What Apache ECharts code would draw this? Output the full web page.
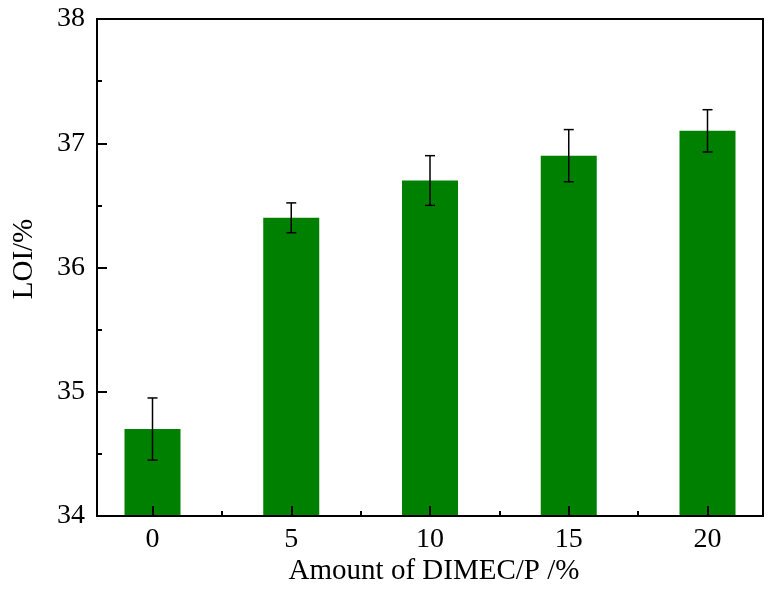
<!DOCTYPE html>
<html>
<head>
<meta charset="utf-8">
<script src="https://cdn.jsdelivr.net/npm/echarts@6/dist/echarts.min.js"></script>
<style>
html,body{margin:0;padding:0;background:#fff;}
#chart{width:774px;height:592px;}
</style>
</head>
<body>
<div id="chart"></div>
<script>
// Data
var amounts = [0, 5, 10, 15, 20];            // Amount of DIMEC/P (%)
var loiValues = [34.7, 36.4, 36.7, 36.9, 37.1]; // LOI (%)
var loiErrors = [0.25, 0.12, 0.20, 0.21, 0.17]; // ± error
var xMinorTicks = [2.5, 7.5, 12.5, 17.5];
var xTitle = 'Amount of DIMEC/P /%';
var yTitle = 'LOI/%';

var FONT = '"Liberation Serif", "Times New Roman", serif';

var barData = amounts.map(function (a, i) { return [a, loiValues[i]]; });
var errData = amounts.map(function (a, i) { return [a, loiValues[i] - loiErrors[i], loiValues[i] + loiErrors[i]]; });

var chart = echarts.init(document.getElementById('chart'), null, {renderer: 'canvas'});
chart.setOption({
  backgroundColor: '#ffffff',
  animation: false,
  grid: {
    left: 97, top: 19, right: 11, bottom: 76,
    show: true, borderColor: '#000', borderWidth: 2, backgroundColor: 'transparent'
  },
  xAxis: [{
    type: 'value', min: -2, max: 22, z: 10,
    splitLine: {show: false},
    axisLine: {show: true, onZero: false, lineStyle: {color: '#000', width: 2}},
    axisTick: {show: true, inside: true, length: 10, customValues: amounts, lineStyle: {color: '#000', width: 2}},
    axisLabel: {show: true, customValues: amounts, margin: 10, color: '#000', fontSize: 28, fontFamily: FONT}
  }, {
    type: 'value', min: -2, max: 22, position: 'bottom', z: 10,
    splitLine: {show: false},
    axisLine: {show: false, onZero: false},
    axisTick: {show: true, inside: true, length: 5, customValues: xMinorTicks, lineStyle: {color: '#000', width: 2}},
    axisLabel: {show: false}
  }],
  yAxis: {
    type: 'value', min: 34, max: 38, interval: 1, z: 10,
    splitLine: {show: false},
    axisLine: {show: true, onZero: false, lineStyle: {color: '#000', width: 2}},
    axisTick: {show: true, inside: true, length: 10, lineStyle: {color: '#000', width: 2}},
    minorTick: {show: true, splitNumber: 2, length: 5, lineStyle: {color: '#000', width: 2}},
    axisLabel: {margin: 12, color: '#000', fontSize: 28, fontFamily: FONT}
  },
  graphic: [{
    type: 'text', x: 434, y: 571,
    style: {text: xTitle, font: '29px ' + FONT, fill: '#000', align: 'center', verticalAlign: 'middle'}
  }, {
    type: 'text', x: 24.5, y: 259, rotation: Math.PI / 2,
    style: {text: yTitle, font: '29px ' + FONT, fill: '#000', align: 'center', verticalAlign: 'middle'}
  }],
  series: [{
    type: 'bar',
    data: barData,
    barWidth: 56,
    itemStyle: {color: '#008000'},
    clip: true,
    z: 2
  }, {
    type: 'custom',
    data: errData,
    z: 5,
    renderItem: function (params, api) {
      var x = api.value(0);
      var lo = api.coord([x, api.value(1)]);
      var hi = api.coord([x, api.value(2)]);
      var hw = 5;
      var st = {stroke: '#000', lineWidth: 1.5};
      return {
        type: 'group',
        children: [
          {type: 'line', shape: {x1: lo[0], y1: lo[1], x2: hi[0], y2: hi[1]}, style: st},
          {type: 'line', shape: {x1: hi[0] - hw, y1: hi[1], x2: hi[0] + hw, y2: hi[1]}, style: st},
          {type: 'line', shape: {x1: lo[0] - hw, y1: lo[1], x2: lo[0] + hw, y2: lo[1]}, style: st}
        ]
      };
    }
  }]
});
</script>
</body>
</html>
